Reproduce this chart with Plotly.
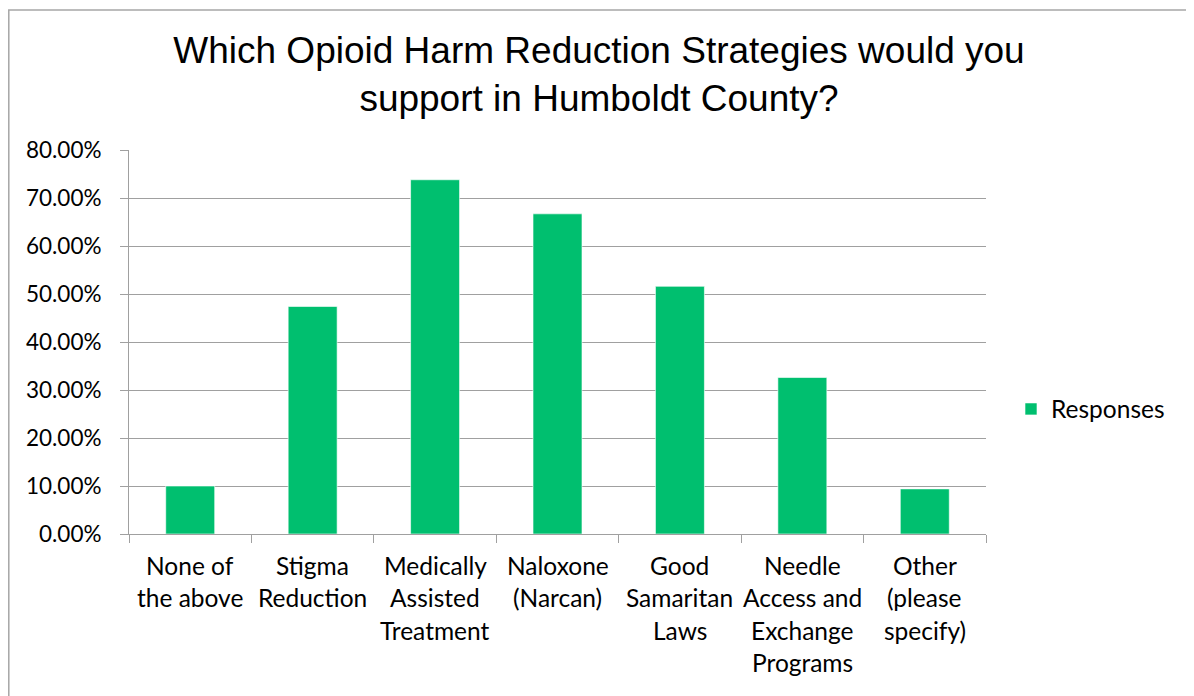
import plotly.graph_objects as go

categories = ["None of the above", "Stigma Reduction", "Medically Assisted Treatment",
              "Naloxone (Narcan)", "Good Samaritan Laws",
              "Needle Access and Exchange Programs", "Other (please specify)"]
label_lines = [["None of", "the above"], ["Stigma", "Reduction"],
               ["Medically", "Assisted", "Treatment"], ["Naloxone", "(Narcan)"],
               ["Good", "Samaritan", "Laws"], ["Needle", "Access and", "Exchange", "Programs"],
               ["Other", "(please", "specify)"]]
values = [0.100, 0.474, 0.738, 0.667, 0.516, 0.326, 0.094]
series_name = "Responses"
title_text = "Which Opioid Harm Reduction Strategies would you<br>support in Humboldt County?"

# page body has an 8px margin; work in figure coordinates (screen - 8)
OFF = 8
W, H = 1194 - OFF, 696 - OFF
L = 129 - OFF
T = 150 - OFF
R = W - (986 - OFF)
B = H - (534 - OFF)
pw, ph = W - L - R, H - T - B

GREEN = "#00BF6F"
GRID = "#A0A0A0"
LABEL_FONT = "Lato"

fig = go.Figure()
fig.add_trace(go.Bar(
    x=categories, y=values, name=series_name,
    marker=dict(color=GREEN, line=dict(color="rgba(255,255,255,0.6)", width=1)),
    showlegend=True,
))

annotations = []
for cat, lines in zip(categories, label_lines):
    for i, ln in enumerate(lines):
        annotations.append(dict(
            x=cat, y=0, xref="x", yref="y", text=ln, showarrow=False,
            xanchor="center", yanchor="middle", yshift=-(31 + 32.5 * i),
            font=dict(family=LABEL_FONT, size=24.5, color="#000000"),
        ))

def px_to_paper_x(px):
    return (px - OFF - L) / pw

def px_to_paper_y(py):
    return (H - B - (py - OFF)) / ph

fig.update_layout(
    width=W, height=H,
    margin=dict(l=L, r=R, t=T, b=B),
    paper_bgcolor="white", plot_bgcolor="white",
    title=dict(text=title_text, x=(599 - OFF) / W, xanchor="center", y=1 - 55 / H, yanchor="top",
               font=dict(family="Liberation Sans", size=37, color="#000000")),
    bargap=0.6,
    xaxis=dict(showticklabels=False, ticks="outside", tickson="boundaries", ticklen=8,
               tickcolor=GRID, showline=True, linecolor=GRID, linewidth=1, showgrid=False),
    yaxis=dict(range=[0, 0.8], dtick=0.1, tickformat=".2%", showgrid=True, gridcolor=GRID,
               gridwidth=1, showline=True, linecolor=GRID, linewidth=1, ticks="outside",
               ticklen=8, tickcolor=GRID, ticklabelstandoff=14, zeroline=False,
               tickfont=dict(family=LABEL_FONT, size=22.5, color="#000000")),
    legend=dict(x=px_to_paper_x(1011), y=px_to_paper_y(409), xanchor="left", yanchor="middle",
                font=dict(family=LABEL_FONT, size=24.5, color="#000000"),
                bgcolor="rgba(0,0,0,0)"),
    annotations=annotations,
    shapes=[dict(type="rect", xref="paper", yref="paper",
                 x0=px_to_paper_x(8.8), x1=px_to_paper_x(1190),
                 y0=px_to_paper_y(705), y1=px_to_paper_y(10),
                 line=dict(color="#A6A6A6", width=1.5), fillcolor="rgba(0,0,0,0)", layer="below")],
)

fig.write_html("out.html")
